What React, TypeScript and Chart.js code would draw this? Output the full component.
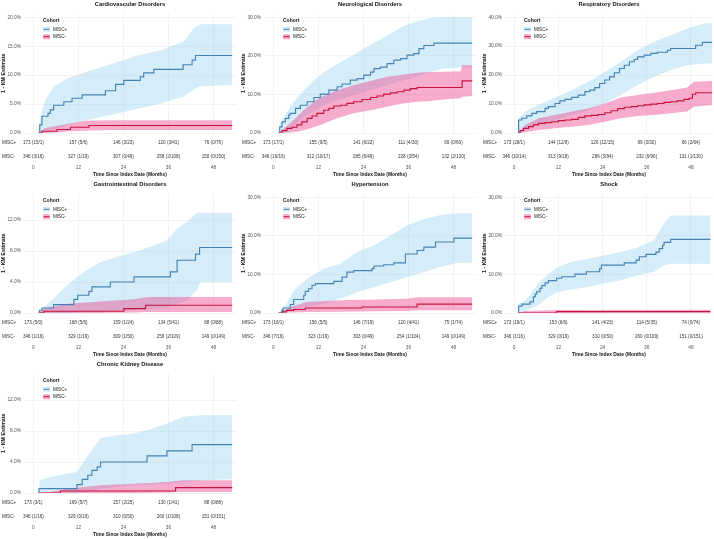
import React, { useEffect, useRef } from "react"
import { Chart, registerables } from "chart.js"

Chart.register(...registerables)

const FONT = "'Liberation Sans', Arial, sans-serif"
const BLUE = "#4682B4"
const BLUE_BAND = "rgba(135, 206, 235, 0.36)"
const RED = "#C8143C"
const PINK_BAND = "rgba(238, 70, 145, 0.45)"
const GRID = "#ebebeb"

type Step = [number, number] // month, 1-KM (%)
type Band = [number, number, number] // month, lower, upper (%)

const cohorts = ["MISC+", "MISC-"]
const xTicks = [0, 12, 24, 36, 48]
const riskTimes = [0, 12, 24, 36, 48]

// Cardiovascular Disorders
const cvPlus: Step[] = [[1.4, 0], [1.7, 1.4], [2.3, 2.9], [3.9, 3.4], [4.5, 4.0], [5.4, 4.8], [8.1, 5.4], [10.3, 6.0], [13.0, 6.6], [19.2, 7.3], [21.9, 8.4], [24.1, 9.1], [28.5, 9.7], [29.4, 10.4], [32.1, 11.0], [39.9, 11.8], [42.3, 12.6], [43.2, 13.4], [53.0, 13.4]]
const cvPlusBand: Band[] = [[1.4, 0, 0], [1.7, 0.1, 2.2], [2.3, 0.3, 3.9], [3.2, 0.4, 5.7], [5.4, 0.5, 8.0], [9.0, 1.4, 9.4], [14.3, 2.2, 10.6], [20.5, 3.1, 11.9], [26.8, 4.0, 13.2], [33.9, 5.1, 14.3], [40.1, 6.3, 15.8], [42.8, 7.5, 18.2], [44.5, 8.1, 18.8], [53.0, 8.3, 18.8]]
const cvMinus: Step[] = [[1.4, 0], [2.3, 0.3], [6.3, 0.6], [9.9, 1.0], [14.8, 1.3], [53.0, 1.3]]
const cvMinusBand: Band[] = [[1.4, 0, 0], [3.0, 0, 0.8], [6.0, 0.1, 1.2], [10.0, 0.3, 1.7], [14.0, 0.4, 2.1], [20.0, 0.5, 2.2], [53.0, 0.5, 2.2]]
const cvRiskPlus = ["173 (15/1)", "157 (5/6)", "146 (3/23)", "120 (3/41)", "76 (0/76)"]
const cvRiskMinus = ["346 (3/16)", "327 (1/19)", "307 (0/49)", "258 (2/108)", "150 (0/150)"]

// Neurological Disorders
const nePlus: Step[] = [[1.4, 0], [1.7, 1.6], [2.3, 2.9], [3.2, 3.8], [4.1, 4.7], [4.5, 5.1], [5.9, 6.4], [7.2, 7.2], [9.0, 8.1], [10.8, 9.2], [12.5, 10.1], [14.8, 11.1], [17.0, 12.0], [18.3, 12.7], [20.5, 13.7], [22.3, 14.1], [24.1, 15.0], [25.9, 15.8], [26.8, 16.7], [28.5, 17.1], [30.3, 18.0], [32.1, 18.9], [33.9, 19.3], [35.6, 20.2], [37.4, 20.6], [38.8, 21.9], [40.1, 22.7], [42.8, 23.3], [53.0, 23.3]]
const nePlusBand: Band[] = [[1.4, 0, 0], [1.7, 0.1, 2.4], [2.8, 0.3, 4.2], [4.5, 0.8, 6.8], [6.3, 2.5, 9.1], [8.1, 4.2, 11.0], [10.8, 5.7, 13.7], [12.5, 6.8, 15.0], [14.3, 7.6, 16.3], [17.0, 8.5, 17.8], [21.4, 9.8, 20.3], [25.9, 11.1, 22.9], [30.3, 12.4, 25.2], [34.8, 13.7, 27.8], [38.3, 14.6, 29.0], [41.9, 15.8, 29.8], [45.4, 16.7, 30.1], [49.9, 17.0, 30.1], [53.0, 17.0, 30.1]]
const neMinus: Step[] = [[1.4, 0], [2.3, 0.6], [3.6, 1.2], [5.0, 1.5], [6.3, 2.1], [7.6, 2.9], [9.0, 3.8], [10.3, 4.4], [11.6, 5.1], [13.4, 5.9], [14.8, 6.4], [16.1, 7.0], [17.9, 7.2], [19.6, 7.7], [21.4, 8.1], [23.6, 8.7], [25.9, 9.2], [27.6, 9.6], [29.4, 10.1], [31.2, 10.4], [33.0, 10.7], [34.8, 11.1], [36.5, 11.5], [38.3, 11.8], [50.3, 13.5], [53.0, 13.5]]
const neMinusBand: Band[] = [[1.4, 0, 0], [2.8, 0, 1.2], [4.5, 0.1, 2.5], [6.3, 0.3, 4.2], [8.1, 0.7, 5.9], [10.8, 1.5, 8.1], [12.5, 2.1, 9.2], [14.3, 2.8, 10.0], [17.0, 3.8, 11.1], [21.4, 5.1, 12.4], [25.9, 5.9, 13.5], [30.3, 6.8, 14.6], [34.8, 7.7, 15.2], [38.3, 8.1, 15.6], [41.9, 8.3, 15.8], [45.4, 8.7, 15.9], [49.9, 9.0, 16.0], [50.3, 9.4, 17.6], [53.0, 9.6, 17.6]]
const neRiskPlus = ["173 (17/1)", "155 (9/5)", "141 (6/22)", "111 (4/30)", "69 (0/69)"]
const neRiskMinus = ["346 (16/16)", "312 (10/17)", "285 (6/49)", "228 (3/54)", "132 (2/130)"]

// Respiratory Disorders
const rePlus: Step[] = [[1.0, 0], [1.2, 4.5], [2.1, 5.1], [3.4, 5.9], [4.8, 6.8], [6.1, 7.4], [8.4, 8.5], [9.3, 9.1], [11.1, 10.2], [12.4, 11.1], [13.8, 11.6], [15.6, 12.3], [17.4, 13.1], [19.2, 14.3], [20.5, 14.8], [21.9, 15.7], [23.2, 17.1], [24.6, 18.3], [25.9, 19.4], [27.2, 20.8], [28.6, 22.3], [29.9, 23.4], [31.3, 24.6], [32.6, 25.4], [33.5, 26.3], [35.3, 26.9], [37.1, 27.5], [38.9, 27.9], [41.6, 28.6], [42.5, 29.2], [49.3, 30.3], [51.1, 31.3], [53.8, 31.3]]
const rePlusBand: Band[] = [[1.0, 0, 0], [1.2, 0.3, 5.0], [1.6, 0.5, 5.6], [3.0, 1.6, 7.4], [6.6, 2.8, 9.7], [11.1, 4.5, 12.3], [15.6, 6.2, 14.8], [20.1, 7.9, 17.7], [24.6, 10.2, 21.1], [29.0, 13.1, 24.6], [33.5, 16.6, 28.6], [38.0, 19.4, 31.5], [42.5, 21.7, 33.8], [47.0, 23.4, 36.1], [51.5, 24.0, 37.8], [53.8, 24.0, 38.0]]
const reMinus: Step[] = [[1.0, 0], [1.6, 0.8], [2.5, 1.6], [3.9, 2.2], [5.2, 2.8], [6.6, 3.3], [8.4, 3.6], [10.2, 3.9], [12.0, 4.3], [13.8, 4.5], [15.6, 4.7], [17.4, 5.4], [19.2, 5.9], [21.0, 6.1], [22.8, 6.4], [24.6, 7.0], [26.3, 7.7], [28.1, 8.4], [29.9, 8.9], [31.7, 9.1], [33.5, 9.4], [35.3, 9.7], [37.1, 10.0], [38.9, 10.2], [40.7, 10.6], [42.5, 10.8], [44.3, 11.1], [46.1, 11.6], [47.5, 12.0], [48.4, 13.4], [49.3, 13.9], [53.8, 13.9]]
const reMinusBand: Band[] = [[1.0, 0, 0], [3.0, 0.3, 2.8], [6.6, 1.0, 5.1], [11.1, 1.6, 6.2], [15.6, 2.2, 7.4], [20.1, 2.8, 8.5], [24.6, 3.9, 10.2], [29.0, 5.1, 12.3], [33.5, 5.9, 13.1], [38.0, 6.2, 13.9], [42.5, 6.8, 14.8], [47.0, 7.4, 15.7], [48.8, 9.1, 17.7], [53.8, 9.7, 18.0]]
const reRiskPlus = ["173 (28/1)", "144 (12/8)", "126 (12/15)", "99 (3/30)", "66 (2/64)"]
const reRiskMinus = ["346 (10/14)", "313 (9/18)", "286 (3/84)", "232 (6/96)", "131 (1/130)"]

// Gastrointestinal Disorders
const giPlus: Step[] = [[1.4, 0], [1.6, 0.35], [2.3, 0.65], [5.4, 1.08], [10.8, 1.77], [11.8, 2.29], [14.8, 2.8], [15.6, 3.37], [20.5, 4.01], [26.8, 4.66], [36.5, 5.31], [38.3, 6.82], [43.2, 7.6], [44.3, 8.46], [53.0, 8.46]]
const giPlusBand: Band[] = [[1.4, 0, 0], [2.8, 0, 0.78], [5.4, 0, 1.86], [9.0, 0, 3.58], [13.4, 0.05, 5.31], [17.9, 0.13, 6.6], [22.3, 0.25, 7.25], [26.8, 0.35, 7.9], [31.2, 0.5, 8.55], [35.6, 0.78, 9.4], [38.3, 1.1, 10.9], [41.0, 1.64, 11.8], [43.6, 2.93, 12.95], [44.5, 4.0, 12.95], [53.0, 4.0, 12.95]]
const giMinus: Step[] = [[1.4, 0], [2.8, 0.22], [24.1, 0.56], [29.9, 1.0], [53.0, 1.0]]
const giMinusBand: Band[] = [[1.4, 0, 0], [2.8, 0, 0.56], [9.0, 0, 1.2], [17.9, 0, 1.5], [26.8, 0.05, 1.77], [30.3, 0.13, 2.07], [53.0, 0.13, 2.07]]
const giRiskPlus = ["173 (5/0)", "168 (5/6)", "159 (1/24)", "134 (5/41)", "88 (0/88)"]
const giRiskMinus = ["346 (1/16)", "329 (1/19)", "309 (1/50)", "258 (2/109)", "149 (0/149)"]

// Hypertension
const htPlus: Step[] = [[1.4, 0], [2.3, 0.7], [2.6, 1.3], [4.5, 2.2], [5.4, 3.5], [8.1, 4.6], [8.5, 5.6], [9.4, 6.3], [10.3, 7.2], [11.2, 7.6], [16.1, 8.2], [18.3, 9.3], [19.6, 10.6], [21.4, 11.0], [26.3, 11.5], [26.8, 12.2], [29.4, 12.5], [32.1, 13.0], [35.2, 15.3], [38.3, 16.2], [40.1, 17.1], [43.2, 18.4], [48.1, 19.4], [53.0, 19.4]]
const htPlusBand: Band[] = [[1.4, 0, 0], [2.6, 0.1, 1.6], [3.6, 0.26, 2.4], [5.4, 0.7, 5.9], [9.0, 1.55, 8.9], [13.4, 2.4, 11.5], [17.9, 3.7, 12.8], [22.3, 5.4, 15.8], [26.8, 6.7, 17.5], [31.2, 8.0, 20.1], [35.6, 9.3, 22.7], [40.1, 10.6, 24.4], [44.5, 11.9, 25.4], [49.0, 13.0, 25.9], [53.0, 13.0, 25.9]]
const htMinus: Step[] = [[1.4, 0], [2.3, 0.3], [3.5, 0.7], [5.4, 0.9], [8.5, 1.3], [23.6, 1.55], [38.3, 2.3], [53.0, 2.3]]
const htMinusBand: Band[] = [[1.4, 0, 0], [4.5, 0.1, 1.55], [9.0, 0.26, 2.85], [17.9, 0.35, 3.3], [26.8, 0.45, 3.5], [35.6, 0.5, 3.7], [38.3, 0.7, 4.1], [53.0, 0.7, 4.1]]
const htRiskPlus = ["173 (16/1)", "156 (5/5)", "146 (7/19)", "120 (4/41)", "75 (1/74)"]
const htRiskMinus = ["346 (7/16)", "323 (1/19)", "303 (0/49)", "254 (1/104)", "149 (0/149)"]

// Shock
const shPlus: Step[] = [[1.0, 0], [1.2, 1.8], [2.1, 2.3], [4.3, 2.9], [5.2, 4.2], [5.7, 4.9], [6.1, 5.5], [7.0, 6.4], [7.5, 7.1], [8.4, 7.8], [9.3, 8.4], [11.5, 9.0], [12.9, 9.4], [16.5, 10.1], [19.6, 10.7], [23.2, 11.5], [23.7, 12.4], [29.9, 13.0], [33.1, 13.7], [34.0, 14.6], [35.8, 15.2], [38.5, 15.8], [39.4, 16.7], [40.3, 17.6], [40.7, 18.3], [42.5, 19.1], [53.3, 19.1]]
const shPlusBand: Band[] = [[1.0, 0, 0], [1.2, 0.1, 2.2], [1.6, 0.1, 2.5], [3.0, 0.3, 3.3], [3.9, 0.9, 4.2], [6.6, 2.1, 7.7], [9.3, 4.2, 10.2], [12.0, 5.5, 12.0], [15.6, 6.1, 13.3], [20.1, 6.8, 14.1], [24.6, 7.7, 15.0], [29.0, 8.5, 15.8], [33.5, 9.8, 17.0], [38.0, 10.7, 18.9], [40.7, 12.4, 23.2], [42.5, 12.8, 25.3], [53.3, 12.8, 25.3]]
const shMinus: Step[] = [[1.0, 0], [11.5, 0.35], [53.3, 0.35]]
const shMinusBand: Band[] = [[1.0, 0, 0], [3.0, 0, 0.5], [11.5, 0, 0.75], [53.3, 0.05, 0.85]]
const shRiskPlus = ["173 (19/1)", "153 (6/6)", "141 (4/23)", "114 (5/35)", "74 (0/74)"]
const shRiskMinus = ["346 (1/16)", "329 (0/19)", "310 (0/50)", "260 (0/109)", "151 (0/151)"]

// Chronic Kidney Disease
const ckPlus: Step[] = [[1.4, 0], [1.5, 0.56], [11.6, 1.08], [13.0, 1.77], [14.5, 2.29], [15.6, 2.93], [17.0, 3.37], [17.9, 4.01], [30.3, 4.79], [35.6, 5.44], [42.3, 6.26], [53.0, 6.26]]
const ckPlusBand: Band[] = [[1.4, 0, 0], [1.7, 0, 1.64], [4.5, 0, 2.07], [9.0, 0, 2.5], [11.6, 0, 2.72], [14.3, 0.13, 4.66], [17.9, 0.56, 7.12], [22.3, 0.8, 7.47], [26.8, 1.0, 7.68], [31.2, 1.1, 8.24], [35.6, 1.2, 8.98], [40.1, 1.42, 9.84], [44.5, 1.64, 10.06], [53.0, 1.77, 10.06]]
const ckMinus: Step[] = [[1.4, 0], [7.2, 0.26], [37.9, 0.69], [53.0, 0.69]]
const ckMinusBand: Band[] = [[1.4, 0, 0], [4.5, 0, 0.13], [9.0, 0, 0.56], [13.4, 0, 0.78], [17.9, 0, 1.0], [26.8, 0, 1.2], [35.6, 0.05, 1.42], [40.1, 0.13, 1.64], [53.0, 0.13, 1.64]]
const ckRiskPlus = ["173 (3/1)", "169 (5/7)", "157 (2/25)", "130 (1/41)", "88 (0/88)"]
const ckRiskMinus = ["346 (1/16)", "329 (0/19)", "310 (0/50)", "260 (1/108)", "151 (0/151)"]

interface Panel {
  title: string
  yMax: number
  yTicks: number[]
  plus: Step[]
  plusBand: Band[]
  minus: Step[]
  minusBand: Band[]
  riskPlus: string[]
  riskMinus: string[]
  left: number
  top: number
  width: number
  padRight: number
}

const PANEL_H = 180

const panels: Panel[] = [
  { title: "Cardiovascular Disorders", yMax: 20.66, yTicks: [0, 5, 10, 15, 20], plus: cvPlus, plusBand: cvPlusBand, minus: cvMinus, minusBand: cvMinusBand, riskPlus: cvRiskPlus, riskMinus: cvRiskMinus, left: 0, top: 0, width: 238, padRight: 2 },
  { title: "Neurological Disorders", yMax: 31.0, yTicks: [0, 10, 20, 30], plus: nePlus, plusBand: nePlusBand, minus: neMinus, minusBand: neMinusBand, riskPlus: neRiskPlus, riskMinus: neRiskMinus, left: 240, top: 0, width: 238, padRight: 2 },
  { title: "Respiratory Disorders", yMax: 41.3, yTicks: [0, 10, 20, 30, 40], plus: rePlus, plusBand: rePlusBand, minus: reMinus, minusBand: reMinusBand, riskPlus: reRiskPlus, riskMinus: reRiskMinus, left: 481, top: 0, width: 233, padRight: 1 },
  { title: "Gastrointestinal Disorders", yMax: 15.45, yTicks: [0, 4, 8, 12], plus: giPlus, plusBand: giPlusBand, minus: giMinus, minusBand: giMinusBand, riskPlus: giRiskPlus, riskMinus: giRiskMinus, left: 0, top: 180, width: 238, padRight: 2 },
  { title: "Hypertension", yMax: 31.0, yTicks: [0, 10, 20, 30], plus: htPlus, plusBand: htPlusBand, minus: htMinus, minusBand: htMinusBand, riskPlus: htRiskPlus, riskMinus: htRiskMinus, left: 240, top: 180, width: 238, padRight: 2 },
  { title: "Shock", yMax: 31.0, yTicks: [0, 10, 20, 30], plus: shPlus, plusBand: shPlusBand, minus: shMinus, minusBand: shMinusBand, riskPlus: shRiskPlus, riskMinus: shRiskMinus, left: 481, top: 180, width: 233, padRight: 1 },
  { title: "Chronic Kidney Disease", yMax: 15.45, yTicks: [0, 4, 8, 12], plus: ckPlus, plusBand: ckPlusBand, minus: ckMinus, minusBand: ckMinusBand, riskPlus: ckRiskPlus, riskMinus: ckRiskMinus, left: 0, top: 360, width: 238, padRight: 2 },
]

const toXY = (pts: Step[]) => pts.map(([x, y]) => ({ x, y }))
const bandEdge = (pts: Band[], k: 1 | 2) => pts.map((p) => ({ x: p[0], y: p[k] }))

function KmPanel({ panel }: { panel: Panel }) {
  const canvasRef = useRef<HTMLCanvasElement>(null)

  useEffect(() => {
    const canvas = canvasRef.current
    if (!canvas) return

    // risk table + in-panel legend, drawn on top of the plot
    const overlay = {
      id: "kmOverlay",
      afterDraw(c: any) {
        const { ctx, chartArea: a } = c
        const x = c.scales.x
        ctx.save()
        ctx.font = `4.6px ${FONT}`
        ctx.fillStyle = "#333"
        ctx.textBaseline = "middle"
        ctx.textAlign = "left"
        const r1 = a.bottom + 9.5
        const r2 = a.bottom + 23.5
        ctx.fillText(cohorts[0], 2, r1)
        ctx.fillText(cohorts[1], 2, r2)
        ctx.textAlign = "center"
        riskTimes.forEach((t, i) => {
          const px = x.getPixelForValue(t)
          ctx.fillText(panel.riskPlus[i], px, r1)
          ctx.fillText(panel.riskMinus[i], px, r2)
        })

        const lx = a.left + 19
        ctx.textAlign = "left"
        ctx.font = `bold 5px ${FONT}`
        ctx.fillStyle = "#111"
        ctx.fillText("Cohort", lx, 21)
        const bands = [BLUE_BAND, PINK_BAND]
        const lines = [BLUE, RED]
        cohorts.forEach((name, i) => {
          const y = 29.3 + i * 7.4
          ctx.fillStyle = bands[i]
          ctx.fillRect(lx, y - 2.5, 7, 5)
          ctx.strokeStyle = lines[i]
          ctx.lineWidth = 1
          ctx.beginPath()
          ctx.moveTo(lx + 0.5, y)
          ctx.lineTo(lx + 6.5, y)
          ctx.stroke()
          ctx.fillStyle = "#222"
          ctx.font = `4.6px ${FONT}`
          ctx.fillText(name, lx + 10, y)
        })
        ctx.restore()
      },
    }

    const edge = { borderWidth: 0, borderColor: "rgba(0,0,0,0)", pointRadius: 0, tension: 0 }

    const chart = new Chart(canvas, {
      type: "line",
      data: {
        datasets: [
          { label: "MISC+", data: toXY(panel.plus), borderColor: BLUE, borderWidth: 1.15, stepped: "before", pointRadius: 0, fill: false },
          { label: "MISC-", data: toXY(panel.minus), borderColor: RED, borderWidth: 1.15, stepped: "before", pointRadius: 0, fill: false },
          { ...edge, data: bandEdge(panel.minusBand, 2), fill: "+1", backgroundColor: PINK_BAND },
          { ...edge, data: bandEdge(panel.minusBand, 1), fill: false },
          { ...edge, data: bandEdge(panel.plusBand, 2), fill: "+1", backgroundColor: BLUE_BAND },
          { ...edge, data: bandEdge(panel.plusBand, 1), fill: false },
        ] as any,
      },
      options: {
        animation: false,
        responsive: false,
        events: [],
        layout: { padding: { left: 0, right: panel.padRight, top: 0, bottom: 0 } },
        plugins: {
          legend: { display: false },
          tooltip: { enabled: false },
          title: {
            display: true,
            text: panel.title,
            fullSize: false,
            color: "#111",
            font: { family: FONT, size: 5.8, weight: "bold" },
            padding: { top: 1.4, bottom: 5.1 },
          },
        },
        scales: {
          x: {
            type: "linear",
            min: -2.5,
            max: 54,
            afterFit: (s: any) => {
              s.height = 47
            },
            afterBuildTicks: (s: any) => {
              s.ticks = xTicks.map((v) => ({ value: v }))
            },
            // invisible tick marks push the labels below the risk table
            grid: { color: GRID, lineWidth: 0.6, drawTicks: true, tickLength: 32, tickColor: "rgba(0,0,0,0)" },
            border: { display: false },
            ticks: { padding: 0, color: "#555", maxRotation: 0, autoSkip: false, font: { family: FONT, size: 4.8 } },
            title: {
              display: true,
              text: "Time Since Index Date (Months)",
              color: "#111",
              font: { family: FONT, size: 4.9, weight: "bold" },
              padding: { top: 0, bottom: 2.8 },
            },
          },
          y: {
            min: 0,
            max: panel.yMax,
            afterFit: (s: any) => {
              s.width = 24
            },
            afterBuildTicks: (s: any) => {
              s.ticks = panel.yTicks.map((v) => ({ value: v }))
            },
            grid: { color: GRID, lineWidth: 0.6, drawTicks: false },
            border: { display: false },
            ticks: {
              padding: 3,
              color: "#555",
              font: { family: FONT, size: 4.8 },
              callback: (v: any) => `${Number(v).toFixed(1)}%`,
            },
            title: {
              display: true,
              text: "1 - KM Estimate",
              color: "#111",
              font: { family: FONT, size: 5.3, weight: "bold" },
              padding: { top: 0, bottom: 0 },
            },
          },
        },
      } as any,
      plugins: [overlay],
    })

    return () => {
      chart.destroy()
    }
  }, [panel])

  return (
    <div style={{ position: "absolute", left: panel.left, top: panel.top, width: panel.width, height: PANEL_H }}>
      <canvas ref={canvasRef} width={panel.width} height={PANEL_H} style={{ display: "block", width: panel.width, height: PANEL_H }} />
    </div>
  )
}

export default function App() {
  return (
    <div style={{ position: "fixed", left: 0, top: 0, width: 714, height: 539, background: "#fff", overflow: "hidden" }}>
      {panels.map((p) => (
        <KmPanel key={p.title} panel={p} />
      ))}
    </div>
  )
}
